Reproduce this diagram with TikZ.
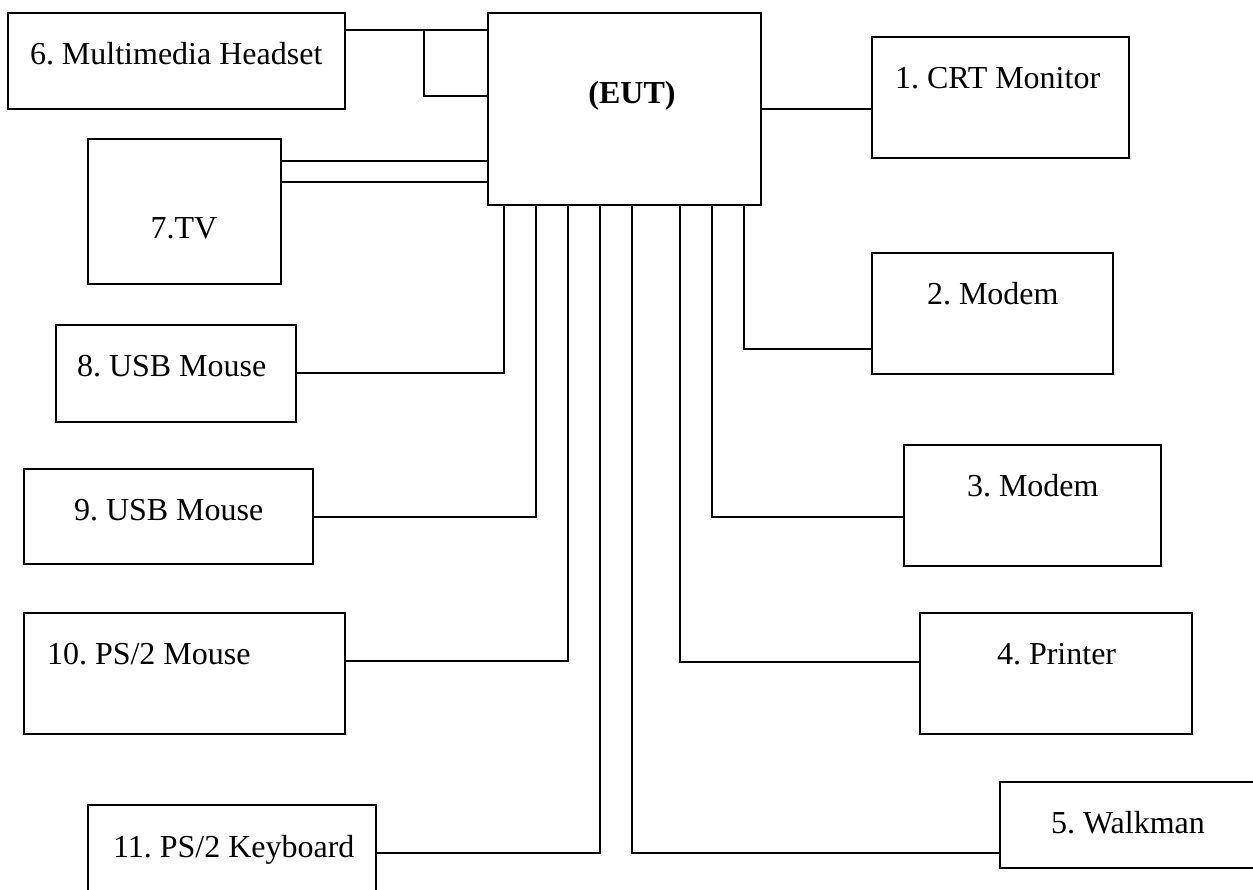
\documentclass[tikz,border=0pt]{standalone}
\usepackage{fontspec}
\setmainfont{Liberation Serif}
\frenchspacing
\tikzset{
  box/.style={draw=black, line width=1.4pt, inner sep=0pt, outer sep=0pt, fill=none},
  lbl/.style={inner sep=0pt, outer sep=0pt, font=\fontsize{32}{38}\selectfont},
  wire/.style={draw=black, line width=1.4pt}
}
\begin{document}
\begin{tikzpicture}[x=1pt, y=-1pt]
\useasboundingbox (0,0) rectangle (1253,889);
\clip (0,0) rectangle (1253,889);
\fill[white] (0,0) rectangle (1253,889);
% boxes
\node[box, minimum width=337pt, minimum height=96pt]  (hs)   at (176.5,61) {};
\node[box, minimum width=193pt, minimum height=145pt] (tv)   at (184.5,211.5) {};
\node[box, minimum width=273pt, minimum height=192pt] (eut)  at (624.5,109) {};
\node[box, minimum width=257pt, minimum height=121pt] (crt)  at (1000.5,97.5) {};
\node[box, minimum width=241pt, minimum height=121pt] (m2)   at (992.5,313.5) {};
\node[box, minimum width=240pt, minimum height=97pt]  (usb8) at (176,373.5) {};
\node[box, minimum width=289pt, minimum height=95pt]  (usb9) at (168.5,516.5) {};
\node[box, minimum width=257pt, minimum height=121pt] (m3)   at (1032.5,505.5) {};
\node[box, minimum width=321pt, minimum height=121pt] (ps2m) at (184.5,673.5) {};
\node[box, minimum width=272pt, minimum height=121pt] (prn)  at (1056,673.5) {};
\node[box, minimum width=288pt, minimum height=125pt] (kb)   at (232,867.5) {};
\node[box, minimum width=280pt, minimum height=86pt]  (wk)   at (1140,825) {};
% labels
\node[lbl, anchor=base west] (ths)  at (30,64)   {6. Multimedia Headset};
\node[lbl, anchor=base]      (ttv)  at (184,238) {7.TV};
\node[lbl, anchor=base, font=\fontsize{32}{38}\selectfont\bfseries] (teut) at (632,103) {(EUT)};
\node[lbl, anchor=base west] (tcrt) at (895,88)  {1. CRT Monitor};
\node[lbl, anchor=base west] (tm2)  at (927,304) {2. Modem};
\node[lbl, anchor=base west] (tu8)  at (77,376)  {8. USB Mouse};
\node[lbl, anchor=base west] (tu9)  at (74,520)  {9. USB Mouse};
\node[lbl, anchor=base west] (tpm)  at (47,664)  {10. PS/2 Mouse};
\node[lbl, anchor=base west] (tkb)  at (113,857) {11. PS/2 Keyboard};
\node[lbl, anchor=base west] (tm3)  at (967,496) {3. Modem};
\node[lbl, anchor=base west] (tprn) at (997,664) {4. Printer};
\node[lbl, anchor=base west] (twk)  at (1051,833) {5. Walkman};
% connectors
\coordinate (hsj) at (424,30);
\draw[wire] (hs.east |- 0,30) -- (eut.west |- 0,30);
\draw[wire] (hsj) |- (eut.west |- 0,96);
\draw[wire] (tv.east |- 0,161) -- (eut.west |- 0,161);
\draw[wire] (tv.east |- 0,182) -- (eut.west |- 0,182);
\draw[wire] (eut.east |- 0,109) -- (crt.west |- 0,109);
\draw[wire] (eut.south -| 504,0) |- (usb8.east |- 0,373);
\draw[wire] (eut.south -| 536,0) |- (usb9.east |- 0,517);
\draw[wire] (eut.south -| 568,0) |- (ps2m.east |- 0,661);
\draw[wire] (eut.south -| 600,0) |- (kb.east |- 0,853);
\draw[wire] (eut.south -| 632,0) |- (wk.west |- 0,853);
\draw[wire] (eut.south -| 680,0) |- (prn.west |- 0,662);
\draw[wire] (eut.south -| 712,0) |- (m3.west |- 0,517);
\draw[wire] (eut.south -| 744,0) |- (m2.west |- 0,349);
\end{tikzpicture}
\end{document}
